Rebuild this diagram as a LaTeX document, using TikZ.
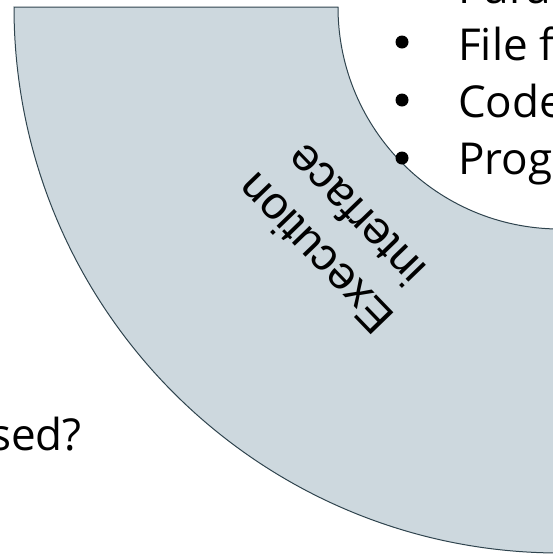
\documentclass[tikz,border=0pt]{standalone}
\usepackage{fontspec}
\setmainfont{Open Sans}
\newfontfamily\arialfont{Liberation Sans}
\definecolor{band}{HTML}{CDD8DE}
\definecolor{bandedge}{HTML}{2F444E}
\begin{document}
\begin{tikzpicture}[x=1pt,y=1pt,
  bandlabel/.style={font=\arialfont\fontsize{46}{56}\selectfont, align=center, inner sep=0pt},
  listtext/.style={font=\fontsize{44}{52}\selectfont, anchor=base west, inner sep=0pt},
  listdot/.style={circle, fill=black, inner sep=0pt, minimum size=13pt}]
\useasboundingbox (0,0) rectangle (553,-555);
\clip (0,0) rectangle (553,-555);
% quarter ring band around a centre just right of the frame
\coordinate (ctr) at (560,-7);
\path[draw=bandedge, fill=band, line width=1pt]
  (14,-7) arc[start angle=180, end angle=270, radius=546pt]
  -- (560,-229) arc[start angle=270, end angle=180, radius=222pt] -- cycle;
\node[bandlabel, rotate=134] (exec) at (335,-235) {Execution\\interface};
% bullet list inside the ring
\node[listtext] (t0) at (458,-3) {Paral};
\node[listdot] (d1) at (402,-42) {};
\node[listtext] (t1) at (458,-60) {File f};
\node[listdot] (d2) at (402,-100) {};
\node[listtext] (t2) at (458,-117) {Code};
\node[listdot] (d3) at (402,-158) {};
\node[listtext] (t3) at (458,-174) {Prog};
% question on the left
\node[font=\fontsize{44}{52}\selectfont, anchor=base east, inner sep=0pt] (q) at (82,-450) {sed?};
\end{tikzpicture}
\end{document}
